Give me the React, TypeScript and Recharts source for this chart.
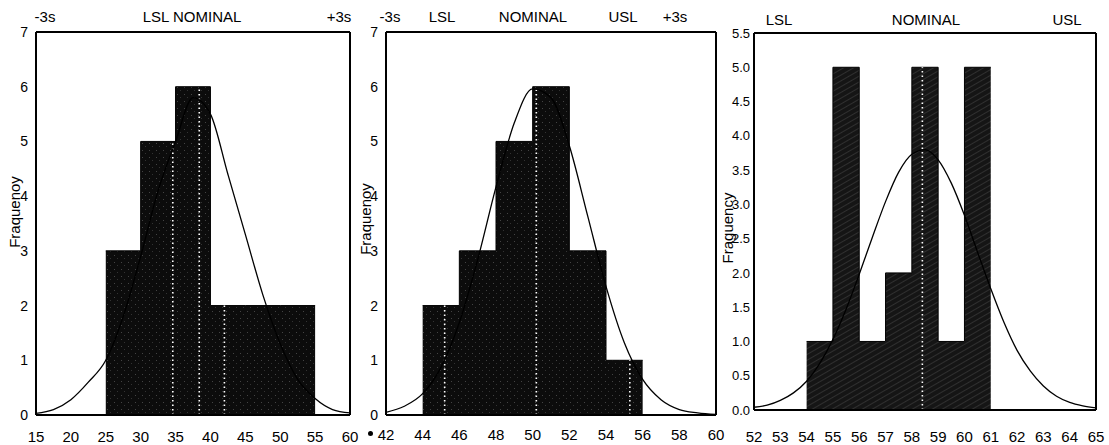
import { Area, ComposedChart, Line, ReferenceLine, XAxis, YAxis } from 'recharts';

// left panel
const binStart1 = [25, 30, 35, 40, 45, 50];
const counts1 = [3, 5, 6, 2, 2, 2];
const binEnd1 = 55;
const curveX1 = [15, 17.5, 20, 22.5, 25, 27.5, 30, 32.5, 35, 37.5, 40, 42.5, 45, 47.5, 50, 52.5, 55, 57.5, 60];
const curveY1 = [0.03, 0.1, 0.28, 0.6, 1.0, 1.8, 2.9, 4.1, 5.0, 5.8, 5.5, 4.4, 3.3, 2.2, 1.3, 0.65, 0.3, 0.1, 0.04];
const specs1 = [34.6, 38.4, 42];
const xTicks1 = [15, 20, 25, 30, 35, 40, 45, 50, 55, 60];
const yTicks1 = [0, 1, 2, 3, 4, 5, 6, 7];

// middle panel
const binStart2 = [44, 46, 48, 50, 52, 54];
const counts2 = [2, 3, 5, 6, 3, 1];
const binEnd2 = 56;
const curveX2 = [42, 43, 44, 45, 46, 47, 48, 49, 50, 51, 52, 53, 54, 55, 56, 57, 58, 59, 60];
const curveY2 = [0.05, 0.16, 0.39, 0.87, 1.69, 2.84, 4.17, 5.34, 5.96, 5.8, 4.92, 3.64, 2.35, 1.32, 0.65, 0.28, 0.1, 0.04, 0.01];
const specs2 = [45.2, 50.2, 55.3];
const xTicks2 = [42, 44, 46, 48, 50, 52, 54, 56, 58, 60];
const yTicks2 = [0, 1, 2, 3, 4, 5, 6, 7];

// right panel
const binStart3 = [54, 55, 56, 57, 58, 59, 60];
const counts3 = [1, 5, 1, 2, 5, 1, 5];
const binEnd3 = 61;
const curveX3 = [52, 52.5, 53, 53.5, 54, 54.5, 55, 55.5, 56, 56.5, 57, 57.5, 58, 58.5, 59, 59.5, 60, 60.5, 61, 61.5, 62, 62.5, 63, 63.5, 64, 64.5, 65];
const curveY3 = [0.04, 0.07, 0.14, 0.25, 0.42, 0.68, 1.03, 1.47, 1.98, 2.52, 3.04, 3.47, 3.73, 3.8, 3.65, 3.31, 2.84, 2.3, 1.77, 1.28, 0.87, 0.57, 0.35, 0.2, 0.11, 0.06, 0.03];
const specs3 = [58.4];
const xTicks3 = [52, 53, 54, 55, 56, 57, 58, 59, 60, 61, 62, 63, 64, 65];
const yTicks3 = [0, 0.5, 1, 1.5, 2, 2.5, 3, 3.5, 4, 4.5, 5, 5.5];

const FONT = '"Liberation Sans", Arial, sans-serif';

const histRows = (starts: number[], counts: number[], end: number) => [
  ...starts.map((x, i) => ({ x, h: counts[i] })),
  { x: end, h: counts[counts.length - 1] },
];

const curveRows = (xs: number[], ys: number[]) => xs.map((x, i) => ({ x, y: ys[i] }));

// top of the bar a spec line sits in (looks half a unit either side)
const barTop = (x: number, starts: number[], counts: number[], end: number) => {
  let top = 0;
  starts.forEach((s, i) => {
    const e = i < starts.length - 1 ? starts[i + 1] : end;
    if (x + 0.5 > s && x - 0.5 < e) top = Math.max(top, counts[i]);
  });
  return top;
};

type PanelProps = {
  left: number;
  width: number;
  plotTop: number;
  xAxisHeight: number;
  yAxisWidth: number;
  rightMargin: number;
  xDomain: [number, number];
  xTicks: number[];
  yTicks: number[];
  yMax: number;
  starts: number[];
  counts: number[];
  end: number;
  curveX: number[];
  curveY: number[];
  specs: number[];
  xTickGap: number;
  yTickSize: number;
  yTickMargin: number;
  yFont: number;
  yFormat?: (v: number) => string;
  fill: string;
  patternId: string;
  hatch?: boolean;
};

const Panel = (p: PanelProps) => {
  const hist = histRows(p.starts, p.counts, p.end);
  const curve = curveRows(p.curveX, p.curveY);
  return (
    <div style={{ position: 'absolute', left: p.left, top: 0 }}>
      <ComposedChart
        width={p.width}
        height={445}
        margin={{ top: p.plotTop, right: p.rightMargin, bottom: 0, left: 0 }}>
        <defs>
          {p.hatch ? (
            <pattern id={p.patternId} width="5" height="5" patternUnits="userSpaceOnUse" patternTransform="rotate(60)">
              <rect width="5" height="5" fill={p.fill} />
              <line x1="0" y1="0" x2="0" y2="5" stroke="#4a4a4a" strokeWidth="1" />
            </pattern>
          ) : (
            <pattern id={p.patternId} width="7" height="7" patternUnits="userSpaceOnUse">
              <rect width="7" height="7" fill={p.fill} />
              <rect x="2" y="3" width="1" height="1" fill="#444" />
              <rect x="5" y="6" width="1" height="1" fill="#333" />
            </pattern>
          )}
        </defs>
        <XAxis
          dataKey="x"
          type="number"
          domain={p.xDomain}
          ticks={p.xTicks}
          interval={0}
          height={p.xAxisHeight}
          tickLine={false}
          tickSize={6}
          tickMargin={p.xTickGap}
          axisLine={{ stroke: '#000', strokeWidth: 2 }}
          tick={{ fill: '#000', fontSize: 15, fontFamily: FONT }}
        />
        <XAxis
          xAxisId="top"
          orientation="top"
          mirror
          type="number"
          domain={p.xDomain}
          ticks={p.xTicks}
          interval={0}
          tick={false}
          tickSize={4}
          tickLine={{ stroke: '#000', strokeWidth: 1.5 }}
          axisLine={{ stroke: '#000', strokeWidth: 2 }}
        />
        <YAxis
          type="number"
          domain={[0, p.yMax]}
          ticks={p.yTicks}
          interval={0}
          width={p.yAxisWidth}
          tickLine={false}
          tickSize={p.yTickSize}
          tickMargin={p.yTickMargin}
          tickFormatter={p.yFormat}
          axisLine={{ stroke: '#000', strokeWidth: 2 }}
          tick={{ fill: '#000', fontSize: p.yFont, fontFamily: FONT }}
        />
        <YAxis
          yAxisId="inner"
          mirror
          type="number"
          domain={[0, p.yMax]}
          ticks={p.yTicks}
          interval={0}
          tick={false}
          tickSize={3}
          tickLine={{ stroke: '#000', strokeWidth: 1.2 }}
          axisLine={false}
        />
        <YAxis
          yAxisId="right"
          orientation="right"
          mirror
          type="number"
          domain={[0, p.yMax]}
          ticks={p.yTicks}
          interval={0}
          tick={false}
          tickSize={3}
          tickLine={{ stroke: '#000', strokeWidth: 1.2 }}
          axisLine={{ stroke: '#000', strokeWidth: 2 }}
        />
        <Area
          data={hist}
          dataKey="h"
          type="stepAfter"
          fill={`url(#${p.patternId})`}
          fillOpacity={1}
          stroke="#000"
          strokeWidth={1}
          isAnimationActive={false}
        />
        {p.specs.map((s) => (
          <ReferenceLine
            key={s}
            segment={[
              { x: s, y: 0 },
              { x: s, y: barTop(s, p.starts, p.counts, p.end) },
            ]}
            stroke="#fff"
            strokeWidth={1.6}
            strokeDasharray="1.5 3"
          />
        ))}
        <Line
          data={curve}
          dataKey="y"
          type="monotone"
          stroke="#000"
          strokeWidth={1.3}
          dot={false}
          isAnimationActive={false}
        />
      </ComposedChart>
    </div>
  );
};

const Label = ({ x, y, text }: { x: number; y: number; text: string }) => (
  <div
    style={{
      position: 'absolute',
      left: x,
      top: y,
      transform: 'translate(-50%, -50%)',
      fontFamily: FONT,
      fontSize: 15,
      color: '#000',
      whiteSpace: 'nowrap',
    }}>
    {text}
  </div>
);

const YTitle = ({ x, y, text }: { x: number; y: number; text: string }) => (
  <div
    style={{
      position: 'absolute',
      left: x,
      top: y,
      transform: 'translate(-50%, -50%) rotate(-90deg)',
      fontFamily: FONT,
      fontSize: 15,
      color: '#000',
      whiteSpace: 'nowrap',
    }}>
    {text}
  </div>
);

export default function App() {
  return (
    <div style={{ position: 'relative', width: 1109, height: 445, background: '#fff', overflow: 'hidden' }}>
      <style>{'body{margin:0}'}</style>
      <Panel
        left={0}
        width={370}
        plotTop={32}
        xAxisHeight={30}
        yAxisWidth={36}
        rightMargin={20}
        xDomain={[15, 60]}
        xTicks={xTicks1}
        yTicks={yTicks1}
        yMax={7}
        starts={binStart1}
        counts={counts1}
        end={binEnd1}
        curveX={curveX1}
        curveY={curveY1}
        specs={specs1}
        xTickGap={10}
        yTickSize={6}
        yTickMargin={2}
        yFont={14}
        fill="#0c0c0c"
        patternId="tex1"
      />
      <Panel
        left={358}
        width={372}
        plotTop={32}
        xAxisHeight={30}
        yAxisWidth={28}
        rightMargin={14}
        xDomain={[42, 60]}
        xTicks={xTicks2}
        yTicks={yTicks2}
        yMax={7}
        starts={binStart2}
        counts={counts2}
        end={binEnd2}
        curveX={curveX2}
        curveY={curveY2}
        specs={specs2}
        xTickGap={8}
        yTickSize={6}
        yTickMargin={2}
        yFont={14}
        fill="#0c0c0c"
        patternId="tex2"
      />
      <Panel
        left={730}
        width={379}
        plotTop={33}
        xAxisHeight={35}
        yAxisWidth={24}
        rightMargin={13}
        xDomain={[52, 65]}
        xTicks={xTicks3}
        yTicks={yTicks3}
        yMax={5.5}
        starts={binStart3}
        counts={counts3}
        end={binEnd3}
        curveX={curveX3}
        curveY={curveY3}
        specs={specs3}
        xTickGap={15}
        yTickSize={3}
        yTickMargin={1}
        yFont={13}
        yFormat={(v: number) => v.toFixed(1)}
        fill="#151515"
        patternId="tex3"
        hatch
      />

      <Label x={45} y={16} text="-3s" />
      <Label x={192} y={16} text="LSL NOMINAL" />
      <Label x={339} y={16} text="+3s" />

      <Label x={390} y={16} text="-3s" />
      <Label x={442} y={16} text="LSL" />
      <Label x={533} y={16} text="NOMINAL" />
      <Label x={623} y={16} text="USL" />
      <Label x={675} y={16} text="+3s" />

      <Label x={779} y={19} text="LSL" />
      <Label x={926} y={19} text="NOMINAL" />
      <Label x={1067} y={19} text="USL" />

      <YTitle x={14} y={212} text="Fraquenoy" />
      <YTitle x={365} y={219} text="Fraquenoy" />
      <YTitle x={727} y={228} text="Fraguency" />

      <div
        style={{
          position: 'absolute',
          left: 368,
          top: 431,
          width: 5,
          height: 5,
          borderRadius: '50%',
          background: '#000',
        }}
      />
    </div>
  );
}
